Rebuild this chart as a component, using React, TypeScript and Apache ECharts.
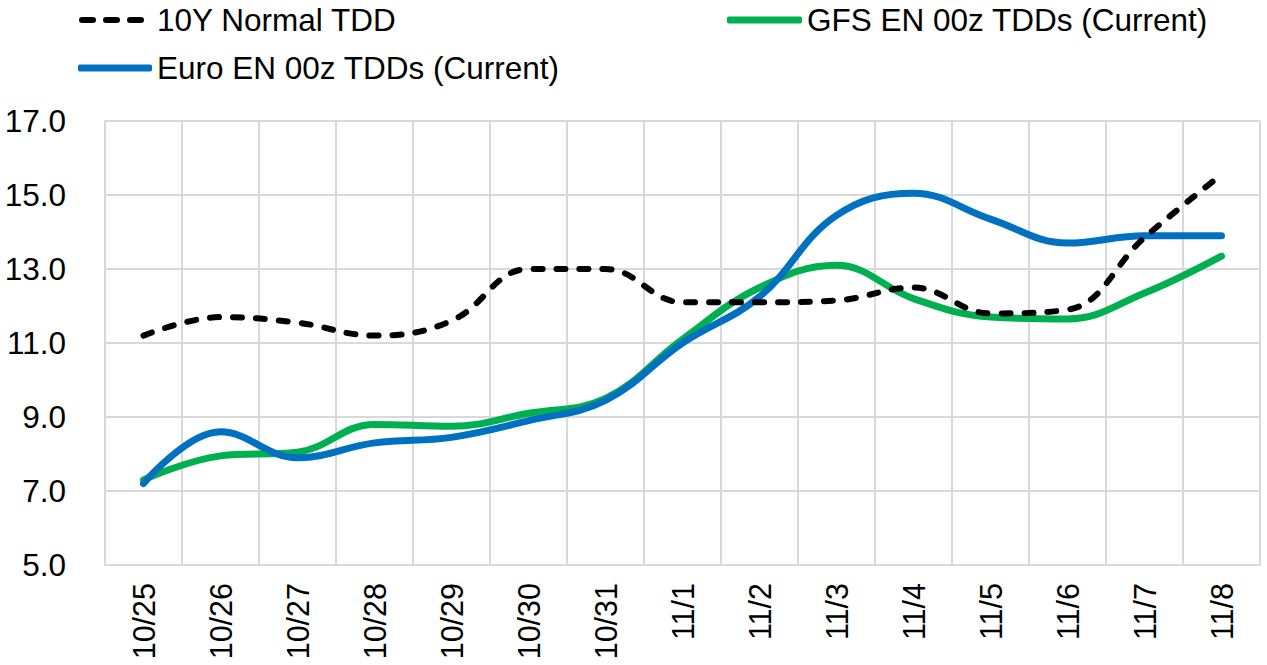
import React, { useEffect, useRef } from "react";
import * as echarts from "echarts";

const categories = ["10/25", "10/26", "10/27", "10/28", "10/29", "10/30", "10/31", "11/1", "11/2", "11/3", "11/4", "11/5", "11/6", "11/7", "11/8"];
const normal10Y = [11.2, 11.7, 11.55, 11.2, 11.6, 13.0, 13.0, 12.1, 12.1, 12.15, 12.5, 11.8, 11.9, 13.85, 15.55];
const gfsEN = [7.3, 7.95, 8.05, 8.8, 8.75, 9.1, 9.5, 11.1, 12.5, 13.1, 12.2, 11.7, 11.65, 12.35, 13.35];
const euroEN = [7.2, 8.6, 7.9, 8.3, 8.45, 8.9, 9.45, 11.0, 12.25, 14.45, 15.05, 14.35, 13.7, 13.9, 13.9];

const FONT = "Liberation Sans, Arial, sans-serif";
const DASH_ICON = "path://M3,0h11a3,3 0 0 1 0,6h-11a3,3 0 0 1 0,-6z M27,0h11a3,3 0 0 1 0,6h-11a3,3 0 0 1 0,-6z M51,0h11a3,3 0 0 1 0,6h-11a3,3 0 0 1 0,-6z";

export default function App() {
  const ref = useRef<HTMLDivElement>(null);
  useEffect(() => {
    if (!ref.current) return;
    const chart = echarts.init(ref.current, null, { renderer: "svg" });
    const legendText = { fontFamily: FONT, fontSize: 31.5, color: "#000" };
    chart.setOption({
      animation: false,
      backgroundColor: "#fff",
      textStyle: { fontFamily: FONT },
      legend: [
        {
          left: 74, top: -1, itemWidth: 65, itemHeight: 6,
          textStyle: { ...legendText, padding: [0, 0, 0, 8] },
          data: [{ name: "10Y Normal TDD", icon: DASH_ICON, itemStyle: { color: "#000" } }],
        },
        {
          left: 722, top: -1, itemWidth: 75, itemHeight: 7,
          textStyle: legendText,
          data: [{ name: "GFS EN 00z TDDs (Current)", icon: "roundRect" }],
        },
        {
          left: 73, top: 47, itemWidth: 74, itemHeight: 7,
          textStyle: legendText,
          data: [{ name: "Euro EN 00z TDDs (Current)", icon: "roundRect" }],
        },
      ],
      grid: { left: 105, right: 7, top: 121, bottom: 100, containLabel: false },
      xAxis: {
        type: "category",
        data: categories,
        boundaryGap: true,
        axisLine: { show: true, lineStyle: { color: "#d9d9d9", width: 2 } },
        axisTick: { show: false },
        splitLine: { show: true, lineStyle: { color: "#d9d9d9", width: 2 } },
        axisLabel: { rotate: 90, margin: 18, fontFamily: FONT, fontSize: 30.5, color: "#000", interval: 0 },
      },
      yAxis: {
        type: "value",
        min: 5,
        max: 17,
        interval: 2,
        axisLine: { show: true, lineStyle: { color: "#d9d9d9", width: 2 } },
        axisTick: { show: false },
        splitLine: { show: true, lineStyle: { color: "#d9d9d9", width: 2 } },
        axisLabel: { margin: 39, fontFamily: FONT, fontSize: 31.5, color: "#000", formatter: (v: number) => v.toFixed(1) },
      },
      series: [
        {
          name: "10Y Normal TDD",
          type: "line",
          data: normal10Y,
          smooth: 0.4,
          symbol: "none",
          color: "#000",
          lineStyle: { color: "#000", width: 6, type: [9, 14], cap: "round" },
          z: 3,
        },
        {
          name: "GFS EN 00z TDDs (Current)",
          type: "line",
          data: gfsEN,
          smooth: 0.4,
          symbol: "none",
          color: "#00B050",
          lineStyle: { color: "#00B050", width: 7, cap: "round" },
          z: 2,
        },
        {
          name: "Euro EN 00z TDDs (Current)",
          type: "line",
          data: euroEN,
          smooth: 0.4,
          symbol: "none",
          color: "#0070C0",
          lineStyle: { color: "#0070C0", width: 7, cap: "round" },
          z: 2,
        },
      ],
    });
    return () => chart.dispose();
  }, []);
  return <div ref={ref} style={{ width: 1267, height: 665, position: "absolute", left: 0, top: 0 }} />;
}
